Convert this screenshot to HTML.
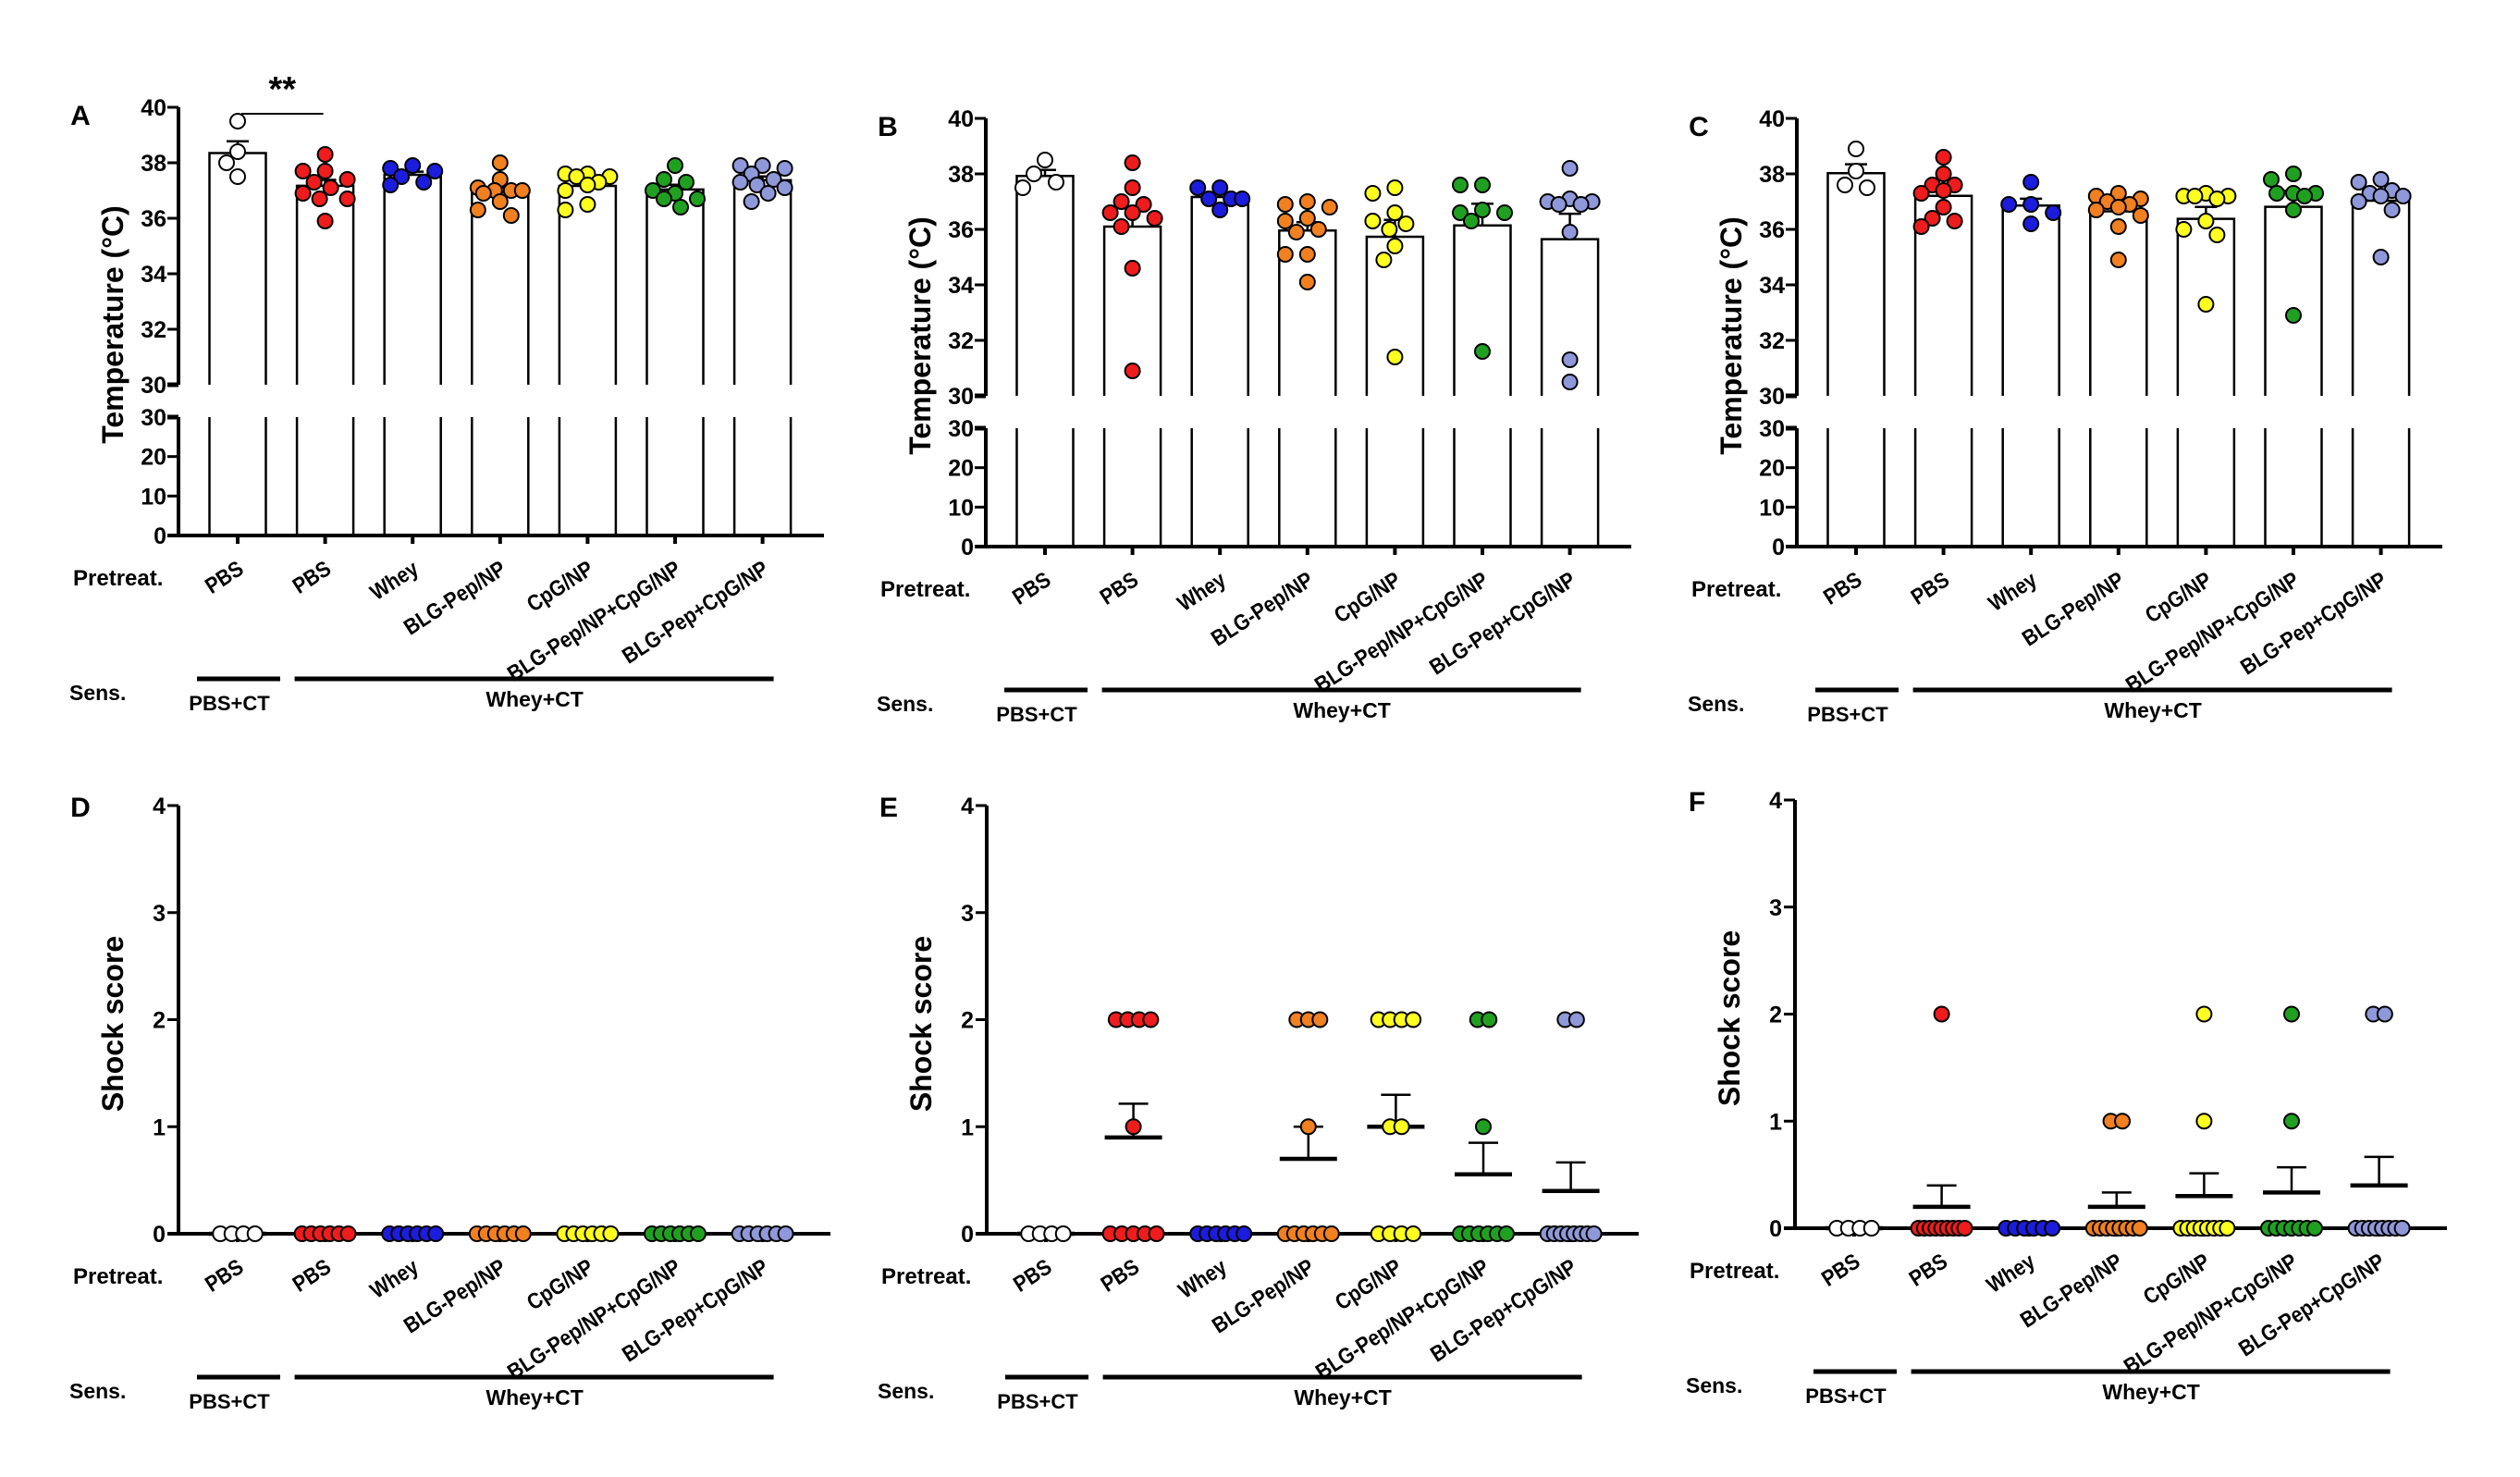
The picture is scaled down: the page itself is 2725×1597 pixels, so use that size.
<!DOCTYPE html>
<html><head><meta charset="utf-8"><style>
html,body{margin:0;padding:0;background:#fff;}
svg{display:block;font-family:"Liberation Sans Narrow","Liberation Sans",sans-serif;font-weight:bold;}
</style></head><body>
<svg id="fig" width="2725" height="1597" viewBox="0 0 2725 1597" xmlns="http://www.w3.org/2000/svg"></svg>
<script>
const categories = ["PBS","PBS","Whey","BLG-Pep/NP","CpG/NP","BLG-Pep/NP+CpG/NP","BLG-Pep+CpG/NP"];
const groupColors = ["#ffffff","#ee1c1c","#1c1cdc","#f08020","#ffff20","#20a020","#8f98d8"];
const tempTicksUpper = [30,32,34,36,38,40];
const tempTicksLower = [0,10,20,30];
const shockTicks = [0,1,2,3,4];
const tempA = [
 [39.5,38.4,38.0,37.5],
 [38.3,37.7,37.7,37.4,37.3,37.1,36.9,36.7,36.7,35.9],
 [37.9,37.8,37.7,37.5,37.3,37.2],
 [38.0,37.4,37.1,37.0,37.0,37.0,36.9,36.6,36.3,36.1],
 [37.6,37.6,37.5,37.5,37.3,37.2,37.0,36.5,36.3],
 [37.9,37.4,37.3,37.0,36.9,36.7,36.7,36.4],
 [37.9,37.9,37.8,37.6,37.4,37.3,37.2,37.1,36.9,36.6]
];
const tempB = [
 [38.5,38.0,37.7,37.5],
 [38.4,37.5,37.0,36.9,36.6,36.6,36.4,36.1,34.6,30.9],
 [37.5,37.5,37.1,37.1,37.1,36.7],
 [37.0,36.9,36.8,36.4,36.3,36.0,35.9,35.1,35.1,34.1],
 [37.5,37.3,36.6,36.3,36.2,36.0,35.4,34.9,31.4],
 [37.6,37.6,36.7,36.6,36.6,36.3,31.6],
 [38.2,37.1,37.0,37.0,36.9,36.9,35.9,31.3,30.5]
];
const tempC = [
 [38.9,38.1,37.6,37.5],
 [38.6,38.0,37.6,37.6,37.4,37.3,36.8,36.4,36.3,36.1],
 [37.7,36.9,36.9,36.6,36.2],
 [37.3,37.2,37.1,37.0,36.9,36.8,36.7,36.5,36.1,34.9],
 [37.3,37.2,37.2,37.2,37.1,36.3,36.0,35.8,33.3],
 [38.0,37.8,37.3,37.3,37.3,37.2,36.7,32.9],
 [37.8,37.7,37.4,37.3,37.2,37.2,37.0,36.7,35.0]
];
const shockD = [
 [0,0,0,0],[0,0,0,0,0,0],[0,0,0,0,0,0],[0,0,0,0,0,0],[0,0,0,0,0,0],[0,0,0,0,0,0],[0,0,0,0,0,0]
];
const shockE = [
 [0,0,0,0],
 [2,2,2,2,1,0,0,0,0,0],
 [0,0,0,0,0,0],
 [2,2,2,1,0,0,0,0,0,0],
 [2,2,2,2,1,1,0,0,0,0],
 [2,2,1,0,0,0,0,0,0],
 [2,2,0,0,0,0,0,0,0,0]
];
const shockF = [
 [0,0,0,0],
 [2,0,0,0,0,0,0,0,0,0],
 [0,0,0,0,0,0],
 [1,1,0,0,0,0,0,0,0,0],
 [2,1,0,0,0,0,0,0,0,0],
 [2,1,0,0,0,0,0,0,0],
 [2,2,0,0,0,0,0,0,0,0]
];

const NS="http://www.w3.org/2000/svg";
const svg=document.getElementById('fig');
function mk(tag,attrs,parent,text){
  const e=document.createElementNS(NS,tag);
  for(const k in attrs) e.setAttribute(k,attrs[k]);
  if(text!==undefined) e.textContent=text;
  (parent||svg).appendChild(e);
  return e;
}
function mean(a){return a.reduce((s,v)=>s+v,0)/a.length;}
function sem(a){const m=mean(a);const v=a.reduce((s,x)=>s+(x-m)*(x-m),0)/(a.length-1);return Math.sqrt(v/a.length);}

function commonX(g,ox,y0,letter,letterY){
  const gx=i=>ox+64+i*94.6;
  const L=mk('text',{x:ox-106,y:letterY,'font-size':30,'text-anchor':'middle','font-family':'Liberation Sans, sans-serif'},g,letter);
  
  
  categories.forEach((c,i)=>{
    const t=mk('line',{x1:gx(i),x2:gx(i),y1:y0,y2:y0+9,stroke:'#000','stroke-width':4},g);
    
    
    const tx=gx(i)+8, ty=y0+40;
    const lab=mk('text',{x:0,y:0,'font-size':24,'text-anchor':'end',transform:`translate(${tx} ${ty}) rotate(-33) scale(0.88 1)`},g,c);
    
    
  });
  const p=mk('text',{x:ox-114,y:y0+54,'font-size':24},g,'Pretreat.');
  
  
  const s=mk('text',{x:ox-118,y:y0+178,'font-size':23},g,'Sens.');
  
  
  const l1=mk('line',{x1:gx(0)-44,x2:gx(0)+46,y1:y0+155,y2:y0+155,stroke:'#000','stroke-width':5},g);
  
  
  const t1=mk('text',{x:gx(0)-9,y:y0+189,'font-size':22,'text-anchor':'middle'},g,'PBS+CT');
  
  
  const l2=mk('line',{x1:gx(1)-33,x2:gx(6)+12,y1:y0+155,y2:y0+155,stroke:'#000','stroke-width':5},g);
  
  
  const t2=mk('text',{x:(gx(1)+gx(6))/2-10,y:y0+185,'font-size':23,'text-anchor':'middle'},g,'Whey+CT');
  
  
  return gx;
}

function cluster(vals,yf){
  const placed=[];const out=new Array(vals.length);
  const idx=vals.map((v,i)=>i).sort((a,b)=>vals[b]-vals[a]);
  const cands=[0,-12,12,-24,24,-6,6,-18,18];
  idx.forEach(i=>{
    const y=yf(vals[i]);
    let best=0,bestD=-1;
    for(const c of cands){
      let d=1e9;
      for(const p of placed){d=Math.min(d,Math.hypot(p.x-c,p.y-y));}
      if(d>=16){best=c;bestD=d;break;}
      if(d>bestD){bestD=d;best=c;}
    }
    placed.push({x:best,y});out[i]=best;
  });
  return out;
}

function tempPanel(name,letter,ox,top,data,sig){
  const g=mk('g',{},svg);
  
  
  const yU=v=>top+(40-v)*30;
  const y30L=top+335, y0=top+463;
  const yL=v=>y0-v*(128/30);
  const gx=commonX(g,ox,y0,letter,top+19);
  data.forEach((vals,i)=>{
    const m=mean(vals), se=sem(vals);
    const x=gx(i)-30.5, w=61;
    const b1=mk('path',{d:`M${x} ${yU(30)} V${yU(m)} H${x+w} V${yU(30)}`,fill:'#fff',stroke:'#000','stroke-width':2.5},g);
    
    
    const b2=mk('path',{d:`M${x} ${y0} V${y30L} M${x+w} ${y30L} V${y0}`,fill:'none',stroke:'#000','stroke-width':2.5},g);
    
    
    const e=mk('path',{d:`M${gx(i)} ${yU(m)} V${yU(m+se)} M${gx(i)-12} ${yU(m+se)} H${gx(i)+12}`,stroke:'#000','stroke-width':2.5,fill:'none'},g);
    
    
  });
  data.forEach((vals,i)=>{
    const offs=cluster(vals,yU);
    vals.forEach((v,j)=>{
      const c=mk('circle',{cx:gx(i)+offs[j],cy:yU(v),r:8,fill:groupColors[i],stroke:'#000','stroke-width':2},g);
      
      
    });
  });
  const ax=mk('path',{d:`M${ox} ${top} V${yU(30)} M${ox} ${y30L} V${y0+2}`,stroke:'#000','stroke-width':4,fill:'none'},g);
  
  
  const xa=mk('line',{x1:ox-12,x2:ox+698,y1:y0,y2:y0,stroke:'#000','stroke-width':4},g);
  
  
  tempTicksUpper.forEach(v=>{
    const t=mk('line',{x1:ox-12,x2:ox,y1:yU(v),y2:yU(v),stroke:'#000','stroke-width':v===30?5:3},g);
    
    
    const tl=mk('text',{x:ox-13,y:yU(v)+9,'font-size':25,'text-anchor':'end'},g,String(v));
    
    
  });
  tempTicksLower.forEach(v=>{
    const t=mk('line',{x1:ox-12,x2:ox,y1:yL(v),y2:yL(v),stroke:'#000','stroke-width':v===30?5:3},g);
    
    
    const tl=mk('text',{x:ox-13,y:yL(v)+9,'font-size':25,'text-anchor':'end'},g,String(v));
    
    
  });
  const cy=top+235, cx=ox-60;
  const yt=mk('text',{x:cx,y:cy,'font-size':32,'text-anchor':'middle',transform:`rotate(-90 ${cx} ${cy})`,'font-family':'Liberation Sans, sans-serif'},g,'Temperature (°C)');
  
  
  if(sig){
    const sl=mk('line',{x1:gx(0)+4,x2:gx(1)-2,y1:top+7,y2:top+7,stroke:'#000','stroke-width':2},g);
    
    
    const st=mk('text',{x:(gx(0)+gx(1))/2+1,y:top-7,'font-size':38,'text-anchor':'middle','font-family':'Liberation Sans, sans-serif'},g,'**');
    
    
  }
}

function shockPanel(name,letter,ox,top,data){
  const g=mk('g',{},svg);
  
  
  const y=v=>top+(4-v)*115.75;
  const y0=y(0);
  const gx=commonX(g,ox,y0,letter,top+12);
  data.forEach((vals,i)=>{
    const m=mean(vals), se=sem(vals);
    const ml=mk('line',{x1:gx(i)-31,x2:gx(i)+31,y1:y(m),y2:y(m),stroke:'#000','stroke-width':4.5},g);
    
    
    if(se>0){
      const e=mk('path',{d:`M${gx(i)} ${y(m)} V${y(m+se)} M${gx(i)-16} ${y(m+se)} H${gx(i)+16}`,stroke:'#000','stroke-width':2.5,fill:'none'},g);
      
      
    }
  });
  const xa=mk('line',{x1:ox-12,x2:ox+705,y1:y0,y2:y0,stroke:'#000','stroke-width':4},g);
  
  
  data.forEach((vals,i)=>{
    const levels=[...new Set(vals)];
    levels.forEach(lv=>{
      const n=vals.filter(v=>v===lv).length;
      const sp=n>1?Math.min(12.5,50/(n-1)):0;
      for(let k=0;k<n;k++){
        const c=mk('circle',{cx:gx(i)+(k-(n-1)/2)*sp,cy:y(lv),r:8,fill:groupColors[i],stroke:'#000','stroke-width':2},g);
        
        
      }
    });
  });
  const ax=mk('line',{x1:ox,x2:ox,y1:top,y2:y0+2,stroke:'#000','stroke-width':4},g);
  
  
  shockTicks.forEach(v=>{
    const t=mk('line',{x1:ox-12,x2:ox,y1:y(v),y2:y(v),stroke:'#000','stroke-width':3},g);
    
    
    const tl=mk('text',{x:ox-14,y:y(v)+9,'font-size':25,'text-anchor':'end'},g,String(v));
    
    
  });
  const cy=top+236, cx=ox-60;
  const yt=mk('text',{x:cx,y:cy,'font-size':32,'text-anchor':'middle',transform:`rotate(-90 ${cx} ${cy})`,'font-family':'Liberation Sans, sans-serif'},g,'Shock score');
  
  
}

tempPanel('panel-a','A',193,116,tempA,true);
tempPanel('panel-b','B',1066,128,tempB,false);
tempPanel('panel-c','C',1943,128,tempC,false);
shockPanel('panel-d','D',193,871,shockD);
shockPanel('panel-e','E',1067,871,shockE);
shockPanel('panel-f','F',1941,865,shockF);
</script>
</body></html>
